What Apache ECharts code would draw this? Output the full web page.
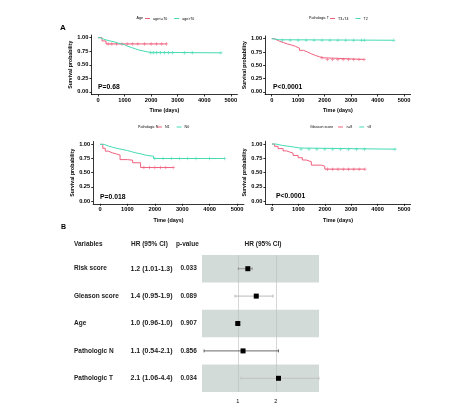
<!DOCTYPE html>
<html><head><meta charset="utf-8">
<script src="https://cdn.jsdelivr.net/npm/echarts@6/dist/echarts.min.js"></script>
<style>html,body{margin:0;padding:0;background:#fff}#c{width:474px;height:412px}</style>
</head><body><div id="c"></div><script>
const FONT = '"Liberation Sans", Arial, sans-serif';
const PINK = '#F0607E', TEAL = '#45DBB4';

// ---- Panel A1: Age ----
const ageLeTimes = [0, 150, 300, 2580];
const ageLeSurv  = [1, 0.94, 0.885, 0.885];
const ageLeCens  = [380, 520, 700, 900, 1100, 1300, 1500, 1750, 2000, 2200, 2400, 2580];
const ageGtTimes = [0, 100, 200, 330, 450, 600, 720, 850, 1000, 1100, 1250, 1400, 1550, 1700, 1850, 1950, 4630];
const ageGtSurv  = [1, 0.975, 0.955, 0.94, 0.925, 0.905, 0.89, 0.87, 0.845, 0.82, 0.795, 0.77, 0.755, 0.74, 0.73, 0.72, 0.72];
const ageGtCens  = [1980, 2080, 2200, 2350, 2500, 2650, 2800, 3250, 3550, 4630];

// ---- Panel A2: Pathologic T ----
const t34Times = [0, 100, 200, 300, 450, 600, 750, 900, 1050, 1200, 1350, 1500, 1650, 1800, 1950, 3490];
const t34Surv  = [1, 0.975, 0.95, 0.925, 0.9, 0.88, 0.855, 0.82, 0.78, 0.75, 0.715, 0.685, 0.66, 0.64, 0.61, 0.61];
const t34Cens  = [1900, 2100, 2300, 2500, 2700, 2900, 3100, 3300, 3490];
const t2Times  = [0, 50, 150, 300, 4620];
const t2Surv   = [1, 0.99, 0.98, 0.97, 0.97];
const t2Cens   = [400, 700, 1000, 1300, 1600, 1900, 2200, 2500, 2800, 3100, 3400, 3500, 4620];

// ---- Panel A3: Pathologic N ----
const n1Times = [0, 100, 190, 300, 450, 600, 730, 1000, 1190, 1480, 2670];
const n1Surv  = [1, 0.93, 0.88, 0.85, 0.83, 0.81, 0.73, 0.72, 0.675, 0.59, 0.59];
const n1Cens  = [1600, 1800, 2000, 2200, 2400, 2670];
const n0Times = [0, 150, 300, 450, 600, 800, 1000, 1150, 1300, 1500, 1650, 1950, 4550];
const n0Surv  = [1, 0.97, 0.95, 0.93, 0.91, 0.89, 0.87, 0.85, 0.83, 0.81, 0.79, 0.75, 0.75];
const n0Cens  = [2000, 2300, 2600, 2900, 3200, 3500, 4000, 4550];

// ---- Panel A4: Gleason score ----
const g8Times = [0, 100, 230, 420, 550, 670, 800, 990, 1150, 1300, 1490, 1870, 2000, 3520];
const g8Surv  = [1, 0.96, 0.92, 0.88, 0.86, 0.84, 0.8, 0.76, 0.72, 0.69, 0.63, 0.61, 0.56, 0.56];
const g8Cens  = [2100, 2300, 2500, 2700, 2900, 3100, 3300, 3520];
const gl8Times = [0, 150, 400, 800, 1050, 4660];
const gl8Surv  = [1, 0.975, 0.95, 0.93, 0.91, 0.91];
const gl8Cens  = [1100, 1400, 1700, 2000, 2300, 2600, 2900, 3200, 3500, 4660];

const xTicks = [0, 1000, 2000, 3000, 4000, 5000];
const yTicks = [0, 0.25, 0.5, 0.75, 1];

// ---- Panel B: forest ----
const forestVars = ['Risk score', 'Gleason score', 'Age', 'Pathologic N', 'Pathologic T'];
const forestHR = [1.2, 1.4, 1.0, 1.1, 2.1];
const forestLo = [1.01, 0.95, 0.96, 0.54, 1.06];
const forestHi = [1.3, 1.9, 1.0, 2.1, 4.4];
const forestHRText = ['1.2 (1.01-1.3)', '1.4 (0.95-1.9)', '1.0 (0.96-1.0)', '1.1 (0.54-2.1)', '2.1 (1.06-4.4)'];
const forestP = ['0.033', '0.089', '0.907', '0.856', '0.034'];
const forestTicks = [1, 2];
const ciColors = ['#888', '#aaa', '#888', '#444', '#bbb'];

const panels = [
  { grid: {left: 91.4, top: 35, width: 146, height: 59.5}, title: 'Age', p: 'P=0.68', pPos: [98, 87], legPos: [145, 16.5], titlePos: [136.5, 18.3],
    curves: [{name: 'age<=70', t: ageLeTimes, s: ageLeSurv, c: ageLeCens, col: PINK}, {name: 'age>70', t: ageGtTimes, s: ageGtSurv, c: ageGtCens, col: TEAL}] },
  { grid: {left: 265.1, top: 36, width: 145.5, height: 58.5}, title: 'Pathologic T', p: 'P<0.0001', pPos: [273, 87], legPos: [330, 16.5], titlePos: [309, 18.3],
    curves: [{name: 'T3+T4', t: t34Times, s: t34Surv, c: t34Cens, col: PINK}, {name: 'T2', t: t2Times, s: t2Surv, c: t2Cens, col: TEAL}] },
  { grid: {left: 93.2, top: 141.5, width: 150.7, height: 62.3}, title: 'Pathologic N', p: 'P=0.018', pPos: [100, 197], legPos: [157, 125], titlePos: [138, 126.7],
    curves: [{name: 'N1', t: n1Times, s: n1Surv, c: n1Cens, col: PINK}, {name: 'N0', t: n0Times, s: n0Surv, c: n0Cens, col: TEAL}] },
  { grid: {left: 265.4, top: 141.2, width: 145.2, height: 62.7}, title: 'Gleason score', p: 'P<0.0001', pPos: [276, 196], legPos: [338, 125], titlePos: [310, 127],
    curves: [{name: '>=8', t: g8Times, s: g8Surv, c: g8Cens, col: PINK}, {name: '<8', t: gl8Times, s: gl8Surv, c: gl8Cens, col: TEAL}] }
];

function survAt(times, surv, t) {
  let v = surv[0];
  for (let i = 0; i < times.length; i++) if (times[i] <= t) v = surv[i];
  return v;
}

const grids = [], xAxes = [], yAxes = [], series = [], legends = [], graphics = [];
const axisLineStyle = {color: '#000', width: 0.8};
panels.forEach((pn, gi) => {
  grids.push(pn.grid);
  xAxes.push({
    gridIndex: gi, type: 'value', min: -250, max: 5250,
    axisLine: {show: true, onZero: false, lineStyle: axisLineStyle},
    axisTick: {show: true, length: 2, customValues: xTicks, lineStyle: axisLineStyle},
    axisLabel: {customValues: xTicks, formatter: v => String(v), fontSize: 5.7, fontWeight: 'bold', color: '#000', margin: 3, fontFamily: FONT},
    splitLine: {show: false},
    name: 'Time (days)', nameLocation: 'middle', nameGap: 14,
    nameTextStyle: {fontSize: 5.4, fontWeight: 'bold', color: '#000', fontFamily: FONT}
  });
  yAxes.push({
    gridIndex: gi, type: 'value', min: -0.05, max: 1.05,
    axisLine: {show: true, onZero: false, lineStyle: axisLineStyle},
    axisTick: {show: true, length: 2, customValues: yTicks, lineStyle: axisLineStyle},
    axisLabel: {customValues: yTicks, formatter: v => v.toFixed(2), fontSize: 5.7, fontWeight: 'bold', color: '#000', margin: 3, fontFamily: FONT},
    splitLine: {show: false},
    name: 'Survival probability', nameLocation: 'middle', nameGap: 17, nameRotate: 90,
    nameTextStyle: {fontSize: 5.2, fontWeight: 'bold', color: '#000', fontFamily: FONT}
  });
  pn.curves.forEach(cv => {
    series.push({
      name: cv.name, type: 'line', xAxisIndex: gi, yAxisIndex: gi, step: 'end', showSymbol: false,
      data: cv.t.map((t, i) => [t, cv.s[i]]),
      lineStyle: {color: cv.col, width: 1}, itemStyle: {color: cv.col}, silent: true, animation: false
    });
    series.push({
      name: cv.name + ' censored', type: 'scatter', xAxisIndex: gi, yAxisIndex: gi,
      symbol: 'path://M4,0H6V4H10V6H6V10H4V6H0V4H4Z', symbolSize: 3.5,
      data: cv.c.map(t => [t, survAt(cv.t, cv.s, t)]),
      itemStyle: {color: cv.col}, silent: true, animation: false
    });
  });
  legends.push({
    data: pn.curves.map(c => c.name), left: pn.legPos[0], top: pn.legPos[1],
    icon: 'rect', itemWidth: 5, itemHeight: 1, itemGap: 7, padding: 0,
    textStyle: {fontSize: 3.6, color: '#000', fontFamily: FONT, padding: [0, 0, 0, -2]}, selectedMode: false
  });
  graphics.push({type: 'text', left: pn.titlePos[0], top: pn.titlePos[1] - 2, style: {text: pn.title, fontSize: 3.6, fill: '#000', fontFamily: FONT}});
  graphics.push({type: 'text', x: pn.pPos[0], y: pn.pPos[1], style: {text: pn.p, fontSize: 6.8, fontWeight: 'bold', fill: '#000', fontFamily: FONT, verticalAlign: 'middle'}});
});

// Forest grid
const FG = 4;
grids.push({left: 202, top: 255, width: 117, height: 137});
xAxes.push({
  gridIndex: FG, type: 'log', logBase: 2, min: 0.52, max: 4.4,
  axisLine: {show: false}, axisTick: {show: false}, splitLine: {show: false},
  axisLabel: {customValues: forestTicks, fontSize: 5.5, color: '#000', margin: 6, fontFamily: FONT}
});
yAxes.push({gridIndex: FG, type: 'value', min: -0.5, max: 4.5, inverse: true, show: false});

series.push({
  type: 'line', xAxisIndex: FG, yAxisIndex: FG, data: [], silent: true, z: 1,
  markArea: {silent: true, itemStyle: {color: '#D3DBD9'},
    data: [0, 2, 4].map(i => [{yAxis: i - 0.5}, {yAxis: i + 0.5}])},
  markLine: {silent: true, symbol: 'none', label: {show: false},
    lineStyle: {color: '#B8BEBC', width: 0.6, type: 'solid'},
    data: forestTicks.map(v => ({xAxis: v}))}
});
series.push({
  type: 'custom', xAxisIndex: FG, yAxisIndex: FG, z: 5, silent: true, animation: false,
  data: forestVars.map((v, i) => [i, forestHR[i], forestLo[i], forestHi[i]]),
  encode: {x: [1, 2, 3], y: 0},
  renderItem: function (params, api) {
    const i = api.value(0);
    const c = api.coord([api.value(1), i]);
    const lo = api.coord([api.value(2), i]);
    const hi = api.coord([api.value(3), i]);
    const col = ciColors[params.dataIndex];
    const ls = {stroke: col, lineWidth: 0.8};
    return {type: 'group', children: [
      {type: 'line', shape: {x1: lo[0], y1: lo[1], x2: hi[0], y2: hi[1]}, style: ls},
      {type: 'line', shape: {x1: lo[0], y1: lo[1] - 1.5, x2: lo[0], y2: lo[1] + 1.5}, style: ls},
      {type: 'line', shape: {x1: hi[0], y1: hi[1] - 1.5, x2: hi[0], y2: hi[1] + 1.5}, style: ls},
      {type: 'rect', shape: {x: c[0] - 2.5, y: c[1] - 2.5, width: 5, height: 5}, style: {fill: '#000'}}
    ]};
  }
});

// Forest table text
const rowY = i => 255 + 137 / 5 * (i + 0.5);
const tstyle = (t, extra) => Object.assign({text: t, fontSize: 6.5, fontWeight: 'bold', fill: '#222', fontFamily: FONT, verticalAlign: 'middle'}, extra || {});
graphics.push({type: 'text', x: 74, y: 244, style: tstyle('Variables')});
graphics.push({type: 'text', x: 131, y: 244, style: tstyle('HR (95% CI)')});
graphics.push({type: 'text', x: 176, y: 244, style: tstyle('p-value')});
graphics.push({type: 'text', x: 263, y: 244, style: tstyle('HR (95% CI)', {align: 'center'})});
forestVars.forEach((v, i) => {
  graphics.push({type: 'text', x: 74, y: rowY(i), style: tstyle(v)});
  graphics.push({type: 'text', x: 130.5, y: rowY(i), style: tstyle(forestHRText[i], {fontSize: 7})});
  graphics.push({type: 'text', x: 180.5, y: rowY(i), style: tstyle(forestP[i])});
});
graphics.push({type: 'text', x: 60, y: 28, style: {text: 'A', fontSize: 8, fontWeight: 'bold', fill: '#000', fontFamily: FONT, verticalAlign: 'middle'}});
graphics.push({type: 'text', x: 61, y: 227, style: {text: 'B', fontSize: 7, fontWeight: 'bold', fill: '#000', fontFamily: FONT, verticalAlign: 'middle'}});

const chart = echarts.init(document.getElementById('c'), null, {renderer: 'canvas'});
chart.setOption({
  animation: false,
  backgroundColor: '#fff',
  textStyle: {fontFamily: FONT},
  grid: grids, xAxis: xAxes, yAxis: yAxes, series: series, legend: legends, graphic: graphics
});
</script></body></html>
